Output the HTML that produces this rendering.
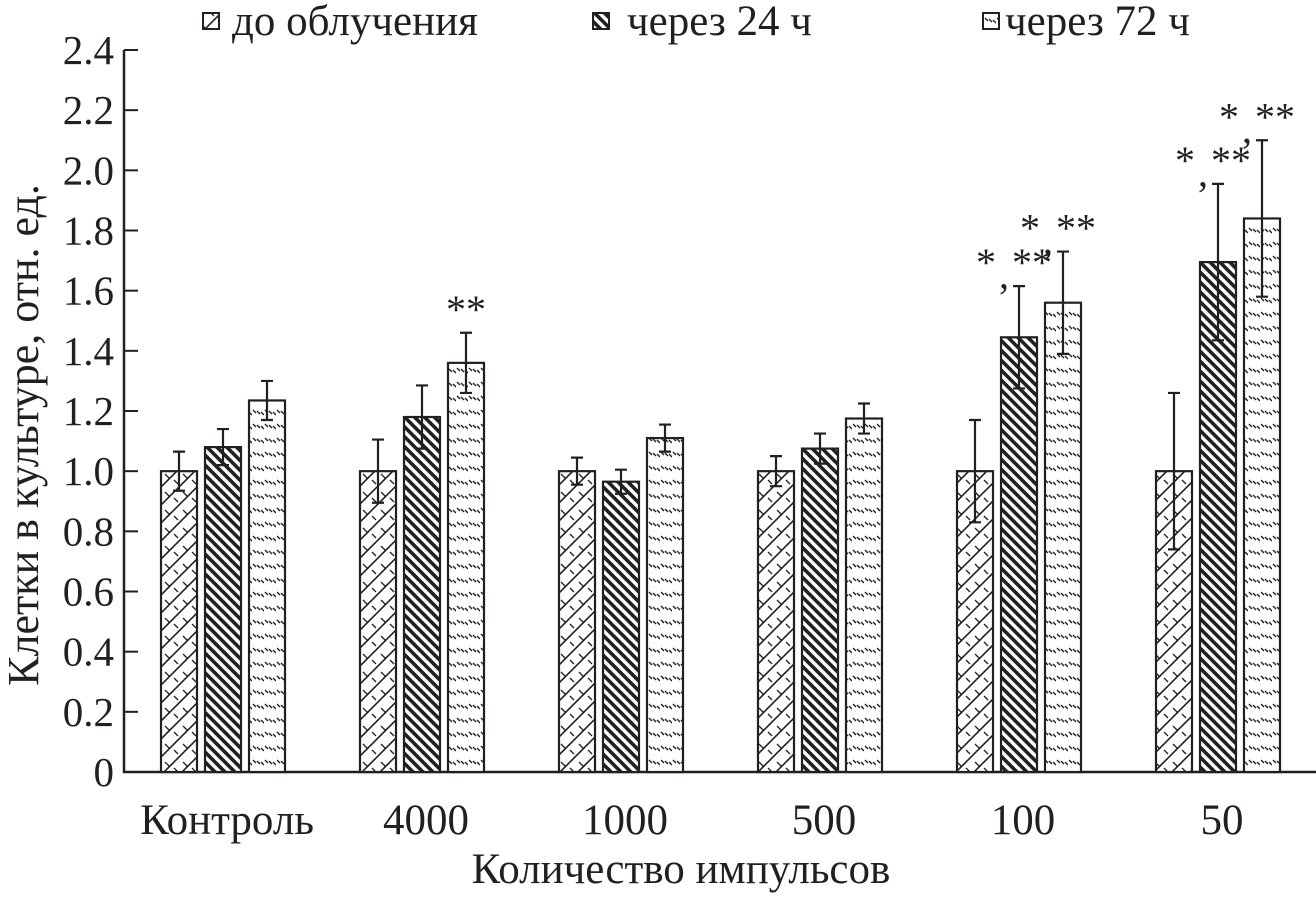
<!DOCTYPE html>
<html><head><meta charset="utf-8"><style>
html,body{margin:0;padding:0;background:#fff}
svg text{font-family:"Liberation Serif",serif;fill:#231f20}
</style></head><body>
<svg id="chart" width="1316" height="897" viewBox="0 0 1316 897" xmlns="http://www.w3.org/2000/svg">
<defs>
<pattern id="p0" patternUnits="userSpaceOnUse" width="18" height="18">
<rect width="18" height="18" fill="#fff"/>
<path d="M0 18 L18 0 M-4 4 L4 -4 M14 22 L22 14" stroke="#231f20" stroke-width="1.6"/>
<path d="M3 6 L8 11 M12 12 L16 16" stroke="#231f20" stroke-width="1.3"/>
</pattern>
<pattern id="p1" patternUnits="userSpaceOnUse" width="7" height="7" patternTransform="rotate(45)">
<rect width="7" height="7" fill="#fff"/>
<rect x="0" y="0" width="7" height="3.6" fill="#231f20"/>
</pattern>
<pattern id="p2" patternUnits="userSpaceOnUse" width="12" height="14">
<rect width="12" height="14" fill="#fff"/>
<path d="M1 4 L4 7 M5 5 L8 8 M9 6 L12 9" stroke="#231f20" stroke-width="1.4"/>
</pattern>
</defs>
<g id="plot"></g>
</svg>
<script>
const categories = ["Контроль","4000","1000","500","100","50"];
const seriesNames = ["до облучения","через 24 ч","через 72 ч"];
const s0 = [1.0, 1.0, 1.0, 1.0, 1.0, 1.0];
const s1 = [1.08, 1.18, 0.965, 1.075, 1.445, 1.695];
const s2 = [1.235, 1.36, 1.11, 1.175, 1.56, 1.84];
const e0 = [0.065, 0.105, 0.045, 0.05, 0.17, 0.26];
const e1 = [0.06, 0.105, 0.04, 0.05, 0.17, 0.26];
const e2 = [0.065, 0.10, 0.045, 0.05, 0.17, 0.26];
const yTicks = [0,0.2,0.4,0.6,0.8,1.0,1.2,1.4,1.6,1.8,2.0,2.2,2.4];
const yTickLabels = ["0","0.2","0.4","0.6","0.8","1.0","1.2","1.4","1.6","1.8","2.0","2.2","2.4"];
const annotations = [[1,2,"**"],[4,1,"*,**"],[4,2,"*,**"],[5,1,"*,**"],[5,2,"*,**"]];

const NS="http://www.w3.org/2000/svg";
const g=document.getElementById('plot');
const X0=124, Y0=772, YTOP=50;
function y(v){return Y0-(v/2.4)*(Y0-YTOP);}
function gx(i){return 179+i*199;}
function bx(i,s){return gx(i)-18+s*44;}
function mk(t,a,p){const e=document.createElementNS(NS,t);for(const k in a)e.setAttribute(k,a[k]);(p||g).appendChild(e);return e;}
const series=[s0,s1,s2], errs=[e0,e1,e2];

let ax=mk('path',{d:`M${X0} ${YTOP} V${Y0} H1316`,stroke:'#231f20','stroke-width':2.5,fill:'none'});


yTicks.forEach((v,i)=>{
  let t=mk('line',{x1:X0,x2:X0+14,y1:y(v),y2:y(v),stroke:'#231f20','stroke-width':2});
  
  
  let l=mk('text',{x:114,y:y(v)+14,'text-anchor':'end','font-size':41});
  l.textContent=yTickLabels[i];
  
  
});
categories.forEach((c,i)=>{
  let l=mk('text',{x:gx(i)+48,y:834,'text-anchor':'middle','font-size':43});
  l.textContent=c;
  
  
  series.forEach((sv,s)=>{
    const v=sv[i], x=bx(i,s);
    let r=mk('rect',{x:x,y:y(v),width:36,height:Y0-y(v),fill:`url(#p${s})`,stroke:'#231f20','stroke-width':2.2});
    
    
    const e=errs[s][i], cx=x+18;
    let eb=mk('path',{d:`M${cx} ${y(v-e)} V${y(v+e)} M${cx-6} ${y(v+e)} H${cx+6} M${cx-6} ${y(v-e)} H${cx+6}`,stroke:'#231f20','stroke-width':2.2,fill:'none'});
    
    
  });
});
annotations.forEach(a=>{
  const [i,s,txt]=a, cx=bx(i,s)+18, top=y(series[s][i]+errs[s][i]);
  if(txt==="**"){
    let t=mk('text',{x:cx,y:top-10,'text-anchor':'middle','font-size':40});
    t.textContent="**";
    
    
  } else {
    let t1=mk('text',{x:cx-33,y:top-10,'text-anchor':'middle','font-size':40});
    t1.textContent="*";
    
    
    let t2=mk('text',{x:cx-15,y:top+2,'text-anchor':'middle','font-size':40});
    t2.textContent=",";
    
    
    let t3=mk('text',{x:cx+13,y:top-10,'text-anchor':'middle','font-size':40});
    t3.textContent="**";
    
    
  }
});
let yt=mk('text',{x:0,y:0,'text-anchor':'middle','font-size':44,transform:'translate(38 435) rotate(-90)'});
yt.textContent="Клетки в культуре, отн. ед.";


let xt=mk('text',{x:681,y:883,'text-anchor':'middle','font-size':43});
xt.textContent="Количество импульсов";


const lx=[203,593,983], ltx=[232,627,1005];
seriesNames.forEach((n,s)=>{
  let r=mk('rect',{x:lx[s],y:13,width:16,height:16,fill:`url(#p${s})`,stroke:'#231f20','stroke-width':2});
  
  
  let t=mk('text',{x:ltx[s],y:35,'font-size':43});
  t.textContent=n;
  
  
});
</script>
</body></html>
